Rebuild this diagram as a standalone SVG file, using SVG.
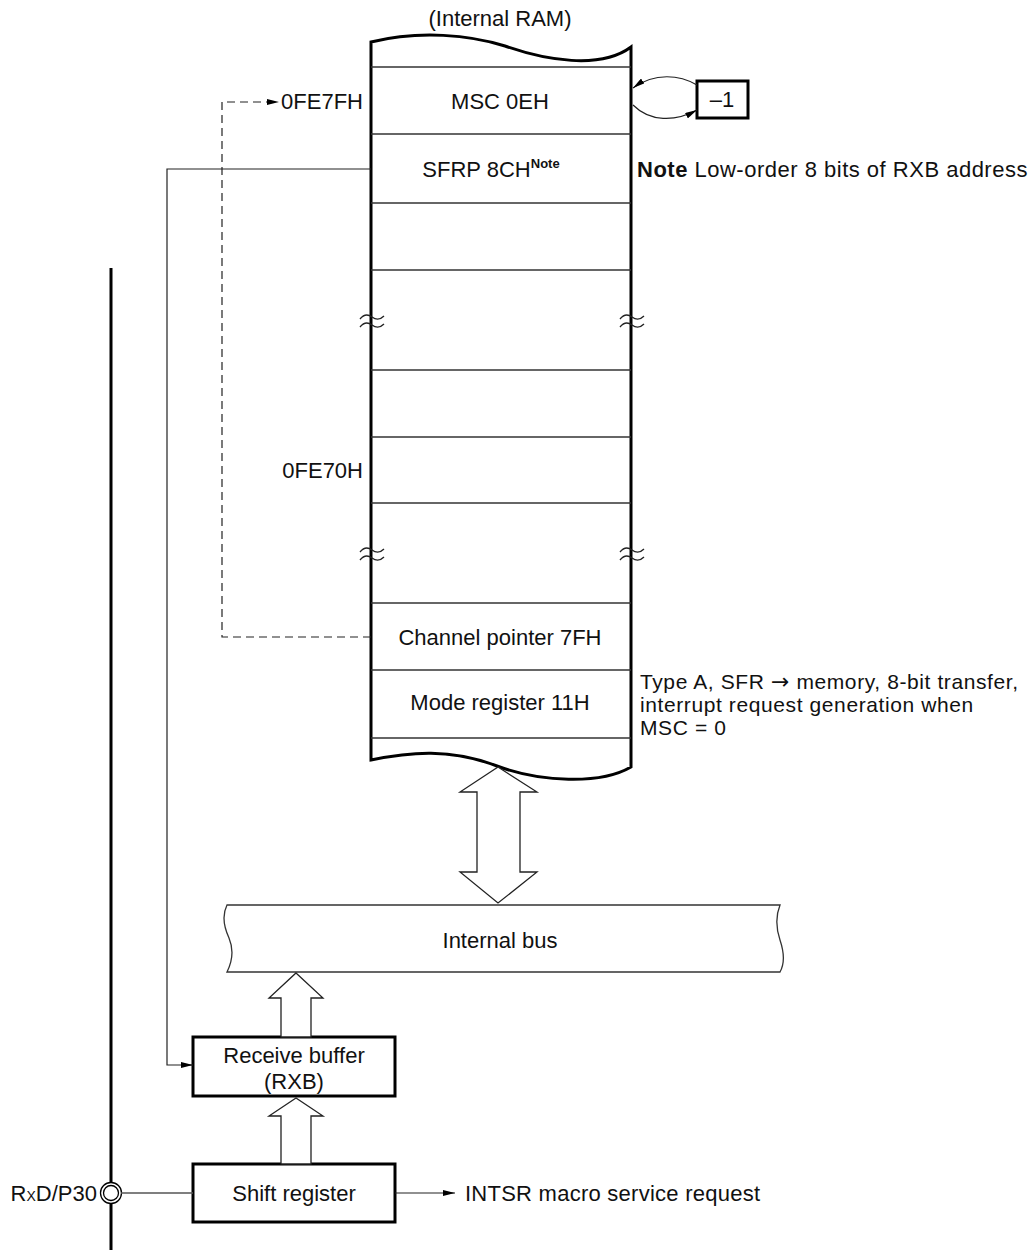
<svg xmlns="http://www.w3.org/2000/svg" width="1029" height="1254" viewBox="0 0 1029 1254">
<style>
text{font-family:"Liberation Sans",Arial,sans-serif;font-size:22px;fill:#111}
.c{text-anchor:middle}
.r{text-anchor:end}
.desc{font-size:21px;letter-spacing:0.6px}
.thick{fill:none;stroke:#000;stroke-width:3}
.row{stroke:#333;stroke-width:1.5}
.thin{fill:none;stroke:#222;stroke-width:1.2}
.box{fill:#fff;stroke:#000;stroke-width:3}
.arr{fill:#fff;stroke:#222;stroke-width:1.3}
.brk{fill:none;stroke:#222;stroke-width:1.3}
</style>
<defs>
<marker id="ah" viewBox="0 0 12 6" refX="12" refY="3" markerWidth="12" markerHeight="6" markerUnits="userSpaceOnUse" orient="auto"><path d="M0,0 L12,3 L0,6 Z" fill="#000"/></marker>
</defs>

<g id="ram">
<text class="c" x="500" y="26">(Internal RAM)</text>
<path class="thick" d="M371,760 L371,42 C420,30 470,35 505,46 C545,60 600,70 631,47 L631,767 C600,785 540,782 497,766 C450,748 410,752 371,760 Z" fill="#fff"/>
<g class="row">
<line x1="371" y1="67" x2="631" y2="67"/>
<line x1="371" y1="134" x2="631" y2="134"/>
<line x1="371" y1="203" x2="631" y2="203"/>
<line x1="371" y1="270" x2="631" y2="270"/>
<line x1="371" y1="370" x2="631" y2="370"/>
<line x1="371" y1="437" x2="631" y2="437"/>
<line x1="371" y1="503" x2="631" y2="503"/>
<line x1="371" y1="603" x2="631" y2="603"/>
<line x1="371" y1="670" x2="631" y2="670"/>
<line x1="371" y1="738" x2="631" y2="738"/>
</g>
<g class="brk">
<path d="M360,319 C364,314 368,314 372,317 C376,320 380,320 384,316"/>
<path d="M360,327 C364,322 368,322 372,325 C376,328 380,328 384,324"/>
<path d="M620,319 C624,314 628,314 632,317 C636,320 640,320 644,316"/>
<path d="M620,327 C624,322 628,322 632,325 C636,328 640,328 644,324"/>
<path d="M360,552 C364,547 368,547 372,550 C376,553 380,553 384,549"/>
<path d="M360,560 C364,555 368,555 372,558 C376,561 380,561 384,557"/>
<path d="M620,552 C624,547 628,547 632,550 C636,553 640,553 644,549"/>
<path d="M620,560 C624,555 628,555 632,558 C636,561 640,561 644,557"/>
</g>
<text class="c" x="500" y="109">MSC 0EH</text>
<text class="c" x="491" y="177">SFRP 8CH<tspan font-size="13" font-weight="bold" dy="-9">Note</tspan></text>
<text class="c" x="500" y="645">Channel pointer 7FH</text>
<text class="c" x="500" y="710">Mode register 11H</text>
</g>

<g id="addr-labels">
<text class="r" x="363" y="109">0FE7FH</text>
<text class="r" x="363" y="478">0FE70H</text>
</g>

<g id="note">
<text x="637" y="177" letter-spacing="0.5"><tspan font-weight="bold">Note</tspan> Low-order 8 bits of RXB address</text>
</g>

<g id="mode-desc">
<text class="desc" x="640" y="689">Type A, SFR <tspan font-family="DejaVu Sans" font-size="22">→</tspan> memory, 8-bit transfer,</text>
<text class="desc" x="640" y="712">interrupt request generation when</text>
<text class="desc" x="640" y="735">MSC = 0</text>
</g>

<g id="dec-box">
<rect class="box" x="697" y="81" width="51" height="37" stroke-width="2.5"/>
<text class="c" x="722" y="107">–1</text>
</g>

<g id="bus">
<path d="M227,905 L780,905 C776,915 775,925 780,940 C785,955 784,965 780,972 L227,972 C233,960 234,950 229,938 C223,925 222,915 227,905 Z" fill="#fff" stroke="#333" stroke-width="1.3"/>
<text class="c" x="500" y="948">Internal bus</text>
</g>

<g id="rxb">
<rect class="box" x="193" y="1037" width="202" height="59"/>
<text class="c" x="294" y="1063">Receive buffer</text>
<text class="c" x="294" y="1089">(RXB)</text>
</g>

<g id="shift">
<rect class="box" x="193" y="1164" width="202" height="58"/>
<text class="c" x="294" y="1201">Shift register</text>
</g>

<g id="pin">
<line x1="111" y1="268" x2="111" y2="1250" stroke="#000" stroke-width="3"/>
<circle cx="111" cy="1193" r="10.5" fill="#fff" stroke="#000" stroke-width="1.3"/>
<circle cx="111" cy="1193" r="7.5" fill="#fff" stroke="#000" stroke-width="1.3"/>
<text class="r" x="97" y="1201" font-size="20">R<tspan font-size="14">X</tspan>D/P30</text>
</g>

<g id="intsr">
<text x="465" y="1201" letter-spacing="0.25">INTSR macro service request</text>
</g>

<g id="connectors">
<path class="arr" d="M498,767 L537,792 L520,792 L520,872 L537,872 L498,903 L460,872 L477,872 L477,792 L460,792 Z"/>
<path class="arr" d="M296,973 L323,998 L311,998 L311,1037 L281,1037 L281,998 L269,998 Z"/>
<path class="arr" d="M296,1098 L323,1116 L311,1116 L311,1164 L281,1164 L281,1116 L269,1116 Z"/>
<path class="thin" d="M371,169 L167,169 L167,1065 L193,1065" marker-end="url(#ah)"/>
<path class="thin" d="M371,637 L222,637 L222,102 L279,102" stroke-dasharray="8,5" marker-end="url(#ah)"/>
<line x1="121" y1="1193" x2="193" y2="1193" stroke="#555" stroke-width="1.3"/>
<line x1="395" y1="1193" x2="455" y2="1193" class="thin" marker-end="url(#ah)"/>
<path class="thin" d="M697,85 C680,75 655,72 633,88" marker-end="url(#ah)"/>
<path class="thin" d="M633,105 C650,122 675,122 697,110" marker-end="url(#ah)"/>
</g>
</svg>
